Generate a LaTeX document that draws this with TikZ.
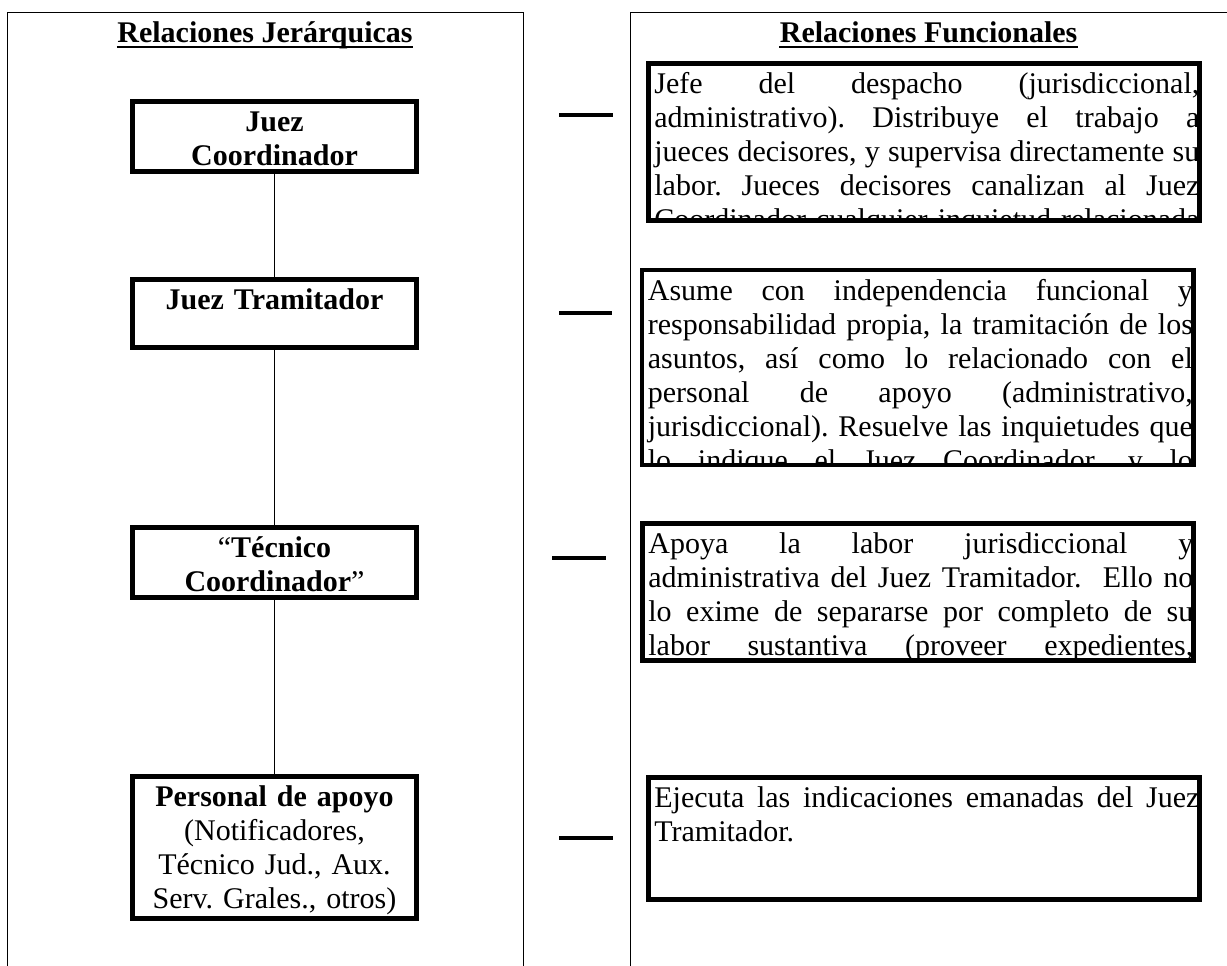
\documentclass[tikz,border=0pt]{standalone}
\usepackage{fontspec}
\setmainfont{Liberation Serif}
\hbadness=10000
\tolerance=10000
\hyphenpenalty=10000
\frenchspacing

\begin{document}
\begin{tikzpicture}[
  x=0.5pt, y=-0.5pt,
  panelline/.style={line width=0.5pt},
  titletext/.style={font=\fontsize{15}{17}\selectfont\bfseries, inner sep=0pt, anchor=base},
  uline/.style={line width=1.2pt},
  jbox/.style={draw, line width=2.35pt, inner sep=0pt, text width=142.15pt,
    align=center, text height=15.18pt, anchor=base,
    font=\fontsize{15}{17}\selectfont},
  fbox/.style={draw, line width=2.35pt, inner sep=0pt, minimum width=275.65pt},
  ftext/.style={draw=none, inner sep=0pt, minimum width=0pt, minimum height=0pt,
    anchor=base west, text width=272.5pt, align=justify,
    font=\fontsize{15}{17}\selectfont},
  conn/.style={line width=0.6pt},
  dashmark/.style={line width=2pt},
]
\useasboundingbox (0,0) rectangle (1227,965);
\clip (0,0) rectangle (1227,965);

% ── Columns ───────────────────────────────────────────────────────────────────
\draw[panelline] (7,1100) -- (7,12) -- (523,12) -- (523,1100);
\draw[panelline] (630,1100) -- (630,12) -- (1300,12);

\node[titletext] (hjer) at (265,42) {Relaciones Jerárquicas};
\draw[uline] ([yshift=-2.5pt]hjer.base west) -- ([yshift=-2.5pt]hjer.base east);
\node[titletext] (hfun) at (928.6,42) {Relaciones Funcionales};
\draw[uline] ([yshift=-2.5pt]hfun.base west) -- ([yshift=-2.5pt]hfun.base east);

% ── Hierarchy (left) ──────────────────────────────────────────────────────────
\node[jbox, text depth=19.98pt] (jc) at (274.5,131.7) {\textbf{Juez}\\\textbf{Coordinador}};
\node[jbox, text depth=18.98pt] (jt) at (274.5,309.7) {\textbf{Juez Tramitador}};
\node[jbox, text depth=19.98pt] (tc) at (274.5,557.7) {“\textbf{Técnico}\\\textbf{Coordinador}”};
\node[jbox, text depth=55.98pt] (pa) at (274.5,806.7)
  {\textbf{Personal de apoyo}\\(Notificadores,\\Técnico Jud., Aux.\\Serv. Grales., otros)};

\draw[conn] (jc) -- (jt);
\draw[conn] (jt) -- (tc);
\draw[conn] (tc) -- (pa);

% ── Functions (right) ─────────────────────────────────────────────────────────
\node[fbox, minimum height=78.65pt, path picture={
    \node[ftext] (fa-t) at ([xshift=1.83pt, yshift=-15.18pt]path picture bounding box.north west)
      {Jefe del despacho (jurisdiccional,\linebreak
       administrativo). Distribuye el trabajo a\linebreak
       jueces decisores, y supervisa directamente su\linebreak
       labor. Jueces decisores canalizan al Juez\linebreak
       Coordinador cualquier inquietud relacionada\parfillskip=0pt\endgraf};}]
  (fa) at (924,142) {};

\node[fbox, minimum height=97.45pt, path picture={
    \node[ftext] (fb-t) at ([xshift=1.83pt, yshift=-15.18pt]path picture bounding box.north west)
      {Asume con independencia funcional y\linebreak
       responsabilidad propia, la tramitación de los\linebreak
       asuntos, así como lo relacionado con el\linebreak
       personal de apoyo (administrativo,\linebreak
       jurisdiccional). Resuelve las inquietudes que\linebreak
       lo indique el Juez Coordinador, y lo\parfillskip=0pt\endgraf};}]
  (fb) at (917.5,367.5) {};

\node[fbox, minimum height=68.65pt, path picture={
    \node[ftext] (fc-t) at ([xshift=1.83pt, yshift=-15.18pt]path picture bounding box.north west)
      {Apoya la labor jurisdiccional y\linebreak
       administrativa del Juez Tramitador.\ \ Ello no\linebreak
       lo exime de separarse por completo de su\linebreak
       labor sustantiva (proveer expedientes,\parfillskip=0pt\endgraf};}]
  (fc) at (918,592) {};

\node[fbox, minimum height=61.15pt, path picture={
    \node[ftext] (fd-t) at ([xshift=1.83pt, yshift=-15.18pt]path picture bounding box.north west)
      {Ejecuta las indicaciones emanadas del Juez
       Tramitador.};}]
  (fd) at (924,838.5) {};

% ── Marks between columns ─────────────────────────────────────────────────────
\draw[dashmark] (559,115) -- (613,115);
\draw[dashmark] (559,313) -- (612,313);
\draw[dashmark] (552,558) -- (606,558);
\draw[dashmark] (559,838) -- (613,838);

\end{tikzpicture}
\end{document}
